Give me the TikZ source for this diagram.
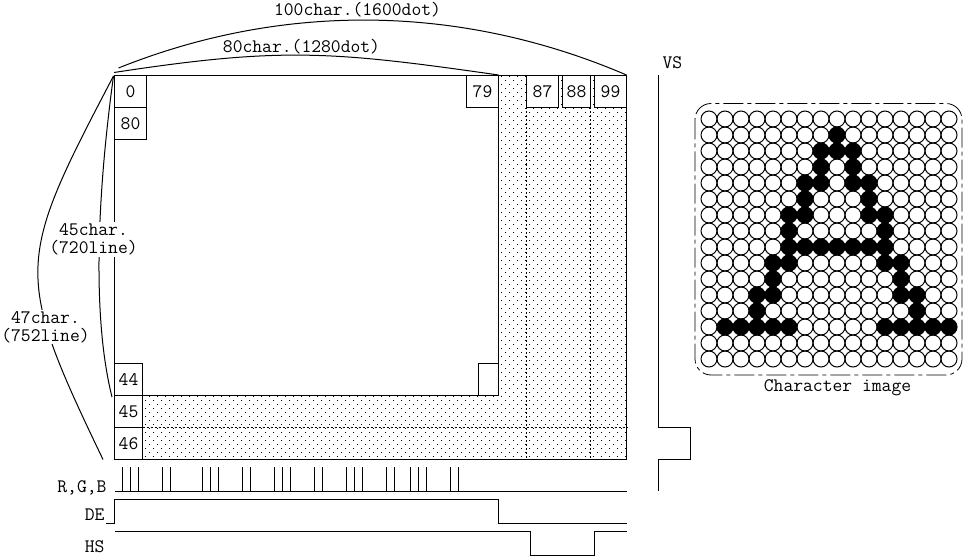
\documentclass[tikz,border=0pt]{standalone}
\usepackage{xcolor}
\usetikzlibrary{
    positioning,
    calc
}
\tikzset{
    cell/.style={draw, fill=white, inner sep=0pt, outer sep=0pt, minimum height=24pt, minimum width=24pt, anchor=north west},
    lbl/.style={inner sep=0pt, align=center},
    gaplbl/.style={lbl, fill=white, inner sep=1pt},
    grid line/.style={dash pattern=on 1.5pt off 1.5pt},
    wave/.style={line join=miter}
}
\newcommand{\labfont}{\fontsize{14.3}{13.6}\selectfont\ttfamily}
\begin{document}
\begin{tikzpicture}[x=0.75pt, y=-0.75pt, line width=0.75pt, font=\labfont]
            \useasboundingbox (0,0) rectangle (963,556);
            \coordinate (TL) at (114.5,75.5);
            \coordinate (IR) at (498.5,395.5);
            \coordinate (BR) at (626.5,459.5);

            % Shaded blanking area
            \begin{scope}
                \clip (498.5,75.5) -| (BR) -| (142.5,395.5) -- (IR) -- cycle;
                \foreach \row in {0,...,48}{
                    \foreach \col in {0,...,64}{
                        \fill (113+8*\col,80+8*\row) rectangle +(1,1);
                        \fill (117+8*\col,76+8*\row) rectangle +(1,1);
                    }
                }
            \end{scope}
            \draw[grid line] (526.5,107.5) -- (526.5,459.5);
            \draw[grid line] (590.5,75.5) -- (590.5,459.5);
            \draw[grid line] (142.5,427.5) -- (628,427.5);

            % Screen outlines
            \draw (TL) rectangle (BR);
            \draw (TL) rectangle (IR);

            % Character cells
            \node[cell, minimum width=24pt] (c0) at (TL) {0};
            \node[cell, below=0pt of c0.south west, anchor=north west] (c80) {80};
            \node[cell] (c79) at (466.5,75.5) {79};
            \node[cell] (c87) at (526.5,75.5) {87};
            \node[cell, minimum width=21pt] (c88) at (562.5,75.5) {88};
            \node[cell] (c99) at (594.5,75.5) {99};
            \node[cell, minimum width=21pt] (c44) at (114.5,363.5) {44};
            \node[cell, minimum width=21pt, below=0pt of c44.south west, anchor=north west] (c45) {45};
            \node[cell, minimum width=21pt, below=0pt of c45.south west, anchor=north west] (c46) {46};
            \node[cell, minimum width=15pt] (corner) at (478.5,363.5) {};

            % Size arcs
            \coordinate (arcA) at (118.5,68);
            \coordinate (arcB) at (114,72.5);
            \coordinate (arcC) at (113.5,76);
            \draw (arcA) .. controls (283,2) and (461,4) .. (626.5,75);
            \draw (arcB) .. controls (281,47) and (331,51) .. (498.5,75);
            \draw (arcC) .. controls (101,167) and (89,305) .. (112,397);
            \draw (arcC) .. controls (16,262) and (13,272) .. (103,459.5);

            \node[lbl] (wide100) at (357.5,10) {100char.(1600dot)};
            \node[lbl] (wide80) at (301.5,47) {80char.(1280dot)};
            \node[gaplbl] (tall45) at (93.5,239.5) {45char.\\(720line)};
            \node[gaplbl] (tall47) at (45.5,327) {47char.\\(752line)};

            % Sync signals
            \draw[wave] (114.5,491.5) -- (626.5,491.5);
            \foreach \px in {122.5,130.5,138.5,162.5,170.5,202.5,210.5,218.5,242.5,250.5,274.5,282.5,290.5,314.5,322.5,346.5,354.5,362.5,386.5,394.5,410.5,418.5,426.5,450.5,458.5}
                \draw (\px,467) -- (\px,491.5);
            \draw[wave] (106,523.5) -| (114.5,499.5) -| (498.5,523.5) -- (626.5,523.5);
            \draw[wave] (114.5,531.5) -| (530.5,555.5) -| (594.5,531.5) -- (626.5,531.5);
            \draw[wave] (658.5,75) |- (690.5,427.5) |- (658.5,459.5) -- (658.5,490.5);

            \node[lbl, anchor=east] (rgb) at (107,487.5) {R,G,B};
            \node[lbl, anchor=east] (de) at (105,515) {DE};
            \node[lbl, anchor=east] (hs) at (105,547) {HS};
            \node[lbl, anchor=west] (vs) at (662,63) {VS};

            % Character image
            \draw[rounded corners=12pt, dash pattern=on 15pt off 3pt on 3pt off 3pt, line width=0.6pt] (695,103.5) rectangle (962,375);
            \foreach \row in {0,...,15}{
                \foreach \col in {0,...,15}{
                    \draw (709+16*\col,119+16*\row) circle[radius=6pt];
                }
            }
            \foreach \row/\cols in {1/{8},2/{7,8,9},3/{7,9},4/{6,7,9,10},5/{6,10},6/{5,6,10,11},7/{5,11},8/{5,6,7,8,9,10,11},9/{4,5,11,12},10/{4,12},11/{3,4,12,13},12/{3,13},13/{1,2,3,4,5,11,12,13,14,15}}{
                \foreach \col in \cols{
                    \fill (709+16*\col,119+16*\row) circle[radius=6.2pt];
                }
            }
            \node[lbl] (charimg) at (837.5,387.5) {Character image};
        \end{tikzpicture}
\end{document}
